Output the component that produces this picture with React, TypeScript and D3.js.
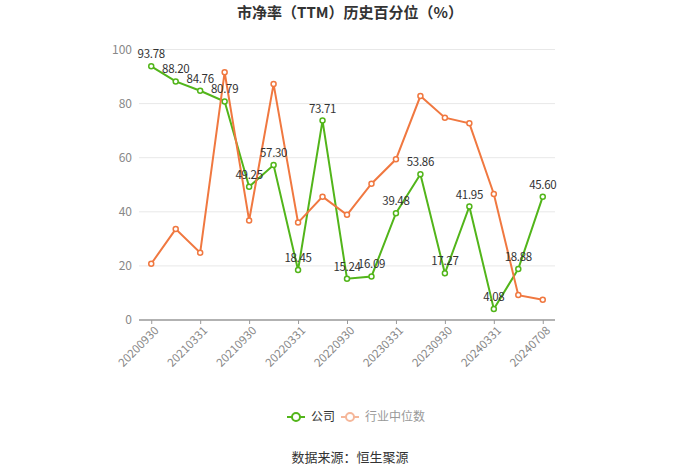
import React, { useEffect, useRef } from "react";
import * as d3 from "d3";

const dates = [
  "20200930", "20201231", "20210331", "20210630", "20210930", "20211231",
  "20220331", "20220630", "20220930", "20221231", "20230331", "20230630",
  "20230930", "20231231", "20240331", "20240630", "20240708",
];
const company = [
  93.78, 88.2, 84.76, 80.79, 49.25, 57.3, 18.45, 73.71, 15.24, 16.09, 39.48,
  53.86, 17.27, 41.95, 4.08, 18.88, 45.6,
];
const industry = [
  20.8, 33.6, 24.9, 91.6, 36.8, 87.2, 36.0, 45.6, 38.9, 50.4, 59.4, 82.8, 74.8,
  72.7, 46.6, 9.2, 7.5,
];
const yTicks = [0, 20, 40, 60, 80, 100];

const FONT = '"Noto Sans CJK SC", "Noto Sans", sans-serif';
const GREEN = "#52b51a";
const ORANGE = "#f07840";

const W = 700;
const H = 474;
const plot = { left: 139, right: 555, top: 49.5, bottom: 320 };

export default function App() {
  const ref = useRef<SVGSVGElement>(null);

  useEffect(() => {
    const svg = d3.select(ref.current);
    svg.selectAll("*").remove();

    const x = d3
      .scalePoint<string>()
      .domain(dates)
      .range([plot.left, plot.right])
      .padding(0.5);
    const y = d3.scaleLinear().domain([0, 100]).range([plot.bottom, plot.top]);

    // title
    svg
      .append("text")
      .attr("x", W / 2)
      .attr("y", 18)
      .attr("text-anchor", "middle")
      .style("font-family", FONT)
      .style("font-size", "15px")
      .style("font-weight", "bold")
      .style("fill", "#333")
      .text("市净率（TTM）历史百分位（%）");

    // grid
    svg
      .append("g")
      .selectAll("line")
      .data(yTicks.filter((d) => d > 0))
      .join("line")
      .attr("x1", plot.left)
      .attr("x2", plot.right)
      .attr("y1", (d) => y(d))
      .attr("y2", (d) => y(d))
      .attr("stroke", "#e8e8e8")
      .attr("stroke-width", 1);

    // y labels
    svg
      .append("g")
      .selectAll("text")
      .data(yTicks)
      .join("text")
      .attr("x", plot.left - 7)
      .attr("y", (d) => y(d))
      .attr("dy", "0.35em")
      .attr("text-anchor", "end")
      .style("font-family", FONT)
      .style("font-size", "12px")
      .style("fill", "#888")
      .text((d) => d);

    // x axis
    const labelled = dates.filter((_, i) => i % 2 === 0);
    const xAxis = d3
      .axisBottom(x)
      .tickValues(labelled)
      .tickSize(4)
      .tickSizeOuter(0);
    const gx = svg
      .append("g")
      .attr("transform", `translate(0,${plot.bottom})`)
      .call(xAxis);
    gx.select(".domain")
      .attr("stroke", "#999")
      .attr("stroke-width", 1.5)
      .attr("d", `M${plot.left},0H${plot.right}`);
    gx.selectAll(".tick line").attr("stroke", "#999");
    gx.selectAll(".tick text")
      .attr("transform", "translate(2,0) rotate(-45)")
      .attr("text-anchor", "end")
      .attr("dy", "0.35em")
      .attr("y", 8)
      .attr("x", -4)
      .style("font-family", FONT)
      .style("font-size", "11.5px")
      .style("fill", "#888");

    const line = d3
      .line<number>()
      .x((_, i) => x(dates[i]) as number)
      .y((d) => y(d));

    const drawSeries = (vals: number[], color: string) => {
      const g = svg.append("g");
      g.append("path")
        .attr("d", line(vals))
        .attr("fill", "none")
        .attr("stroke", color)
        .attr("stroke-width", 2);
      g.selectAll("circle")
        .data(vals)
        .join("circle")
        .attr("cx", (_, i) => x(dates[i]) as number)
        .attr("cy", (d) => y(d))
        .attr("r", 2.5)
        .attr("fill", "#fff")
        .attr("stroke", color)
        .attr("stroke-width", 1.5);
    };

    drawSeries(company, GREEN);
    drawSeries(industry, ORANGE);

    // labels for company
    svg
      .append("g")
      .selectAll("text")
      .data(company)
      .join("text")
      .attr("x", (_, i) => x(dates[i]) as number)
      .attr("y", (d) => y(d) - 8)
      .attr("text-anchor", "middle")
      .style("font-family", FONT)
      .style("font-size", "11.5px")
      .style("letter-spacing", "-0.3px")
      .style("fill", "#333")
      .text((d) => d.toFixed(2));

    // legend
    const legend = [
      { name: "公司", color: GREEN, text: "#333", x: 287 },
      { name: "行业中位数", color: "#f5b79a", text: "#999", x: 341 },
    ];
    const lg = svg
      .append("g")
      .selectAll("g")
      .data(legend)
      .join("g")
      .attr("transform", (d) => `translate(${d.x},417)`);
    lg.append("line")
      .attr("x1", 0)
      .attr("x2", 18)
      .attr("stroke", (d) => d.color)
      .attr("stroke-width", 2);
    lg.append("circle")
      .attr("cx", 9)
      .attr("r", 4)
      .attr("fill", "#fff")
      .attr("stroke", (d) => d.color)
      .attr("stroke-width", 2);
    lg.append("text")
      .attr("x", 24)
      .attr("dy", "0.35em")
      .style("font-family", FONT)
      .style("font-size", "12px")
      .style("fill", (d) => d.text)
      .text((d) => d.name);

    // source
    svg
      .append("text")
      .attr("x", W / 2)
      .attr("y", 462)
      .attr("text-anchor", "middle")
      .style("font-family", FONT)
      .style("font-size", "13px")
      .style("fill", "#333")
      .text("数据来源：恒生聚源");
  }, []);

  return (
    <svg
      ref={ref}
      width={W}
      height={H}
      style={{ position: "absolute", left: 0, top: 0, background: "#fff" }}
    />
  );
}
